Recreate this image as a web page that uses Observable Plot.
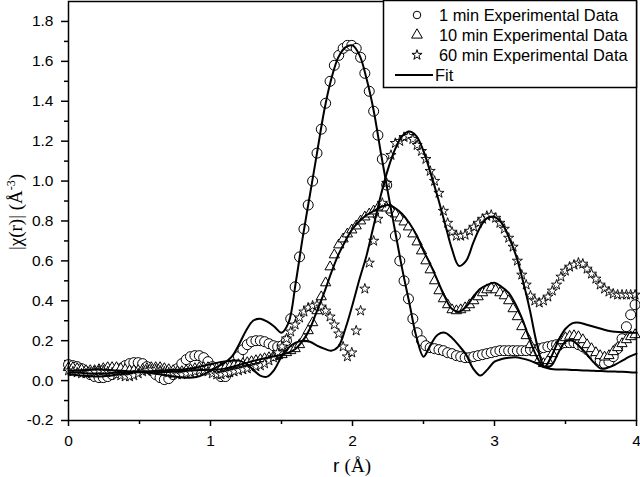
<!DOCTYPE html>
<html>
<head>
<meta charset="utf-8">
<script src="https://cdn.jsdelivr.net/npm/d3@7"></script>
<script src="https://cdn.jsdelivr.net/npm/@observablehq/plot@0.6"></script>
<style>
  html, body { margin: 0; padding: 0; background: #fff; }
  #chart { width: 640px; height: 477px; }
</style>
</head>
<body>
<div id="chart"></div>
<script>
// r grid of the experimental Fourier transforms (Å)
const rGrid = [0.000,0.031,0.061,0.092,0.123,0.153,0.184,0.215,0.245,0.276,0.307,0.338,0.368,0.399,0.430,0.460,0.491,0.522,0.552,0.583,0.614,0.645,0.675,0.706,0.737,0.767,0.798,0.829,0.859,0.890,0.921,0.952,0.982,1.013,1.044,1.074,1.105,1.136,1.166,1.197,1.228,1.259,1.289,1.320,1.351,1.381,1.412,1.443,1.473,1.504,1.535,1.565,1.596,1.627,1.658,1.688,1.719,1.750,1.780,1.811,1.842,1.872,1.903,1.934,1.964,1.995,2.026,2.057,2.087,2.118,2.149,2.179,2.210,2.241,2.271,2.302,2.333,2.363,2.394,2.425,2.455,2.486,2.517,2.547,2.578,2.609,2.640,2.670,2.701,2.732,2.762,2.793,2.824,2.854,2.885,2.916,2.946,2.977,3.008,3.038,3.069,3.100,3.131,3.161,3.192,3.223,3.253,3.284,3.315,3.345,3.376,3.407,3.437,3.468,3.499,3.529,3.560,3.591,3.622,3.652,3.683,3.714,3.744,3.775,3.806,3.836,3.867,3.898,3.929,3.959,3.990];

// 1 min experimental data (circles)
const exp1min = [0.08,0.075,0.07,0.06,0.045,0.03,0.02,0.015,0.015,0.02,0.03,0.045,0.06,0.075,0.085,0.09,0.09,0.085,0.07,0.05,0.03,0.015,0.005,0.01,0.03,0.06,0.085,0.105,0.12,0.125,0.125,0.115,0.095,0.07,0.04,0.02,0.02,0.045,0.08,0.12,0.155,0.18,0.195,0.2,0.2,0.195,0.185,0.175,0.17,0.175,0.2,0.31,0.47,0.62,0.76,0.88,1.0,1.14,1.26,1.39,1.5,1.58,1.63,1.665,1.68,1.68,1.665,1.62,1.54,1.45,1.35,1.23,1.11,0.98,0.85,0.725,0.6,0.5,0.41,0.31,0.24,0.2,0.175,0.165,0.16,0.155,0.15,0.14,0.135,0.125,0.12,0.115,0.115,0.12,0.125,0.13,0.135,0.14,0.145,0.15,0.15,0.15,0.15,0.15,0.15,0.15,0.155,0.155,0.16,0.165,0.17,0.175,0.18,0.185,0.19,0.19,0.19,0.18,0.17,0.155,0.135,0.115,0.1,0.085,0.095,0.12,0.16,0.21,0.27,0.33,0.38];

// 10 min experimental data (triangles)
const exp10min = [0.065,0.065,0.06,0.055,0.05,0.05,0.05,0.055,0.06,0.065,0.065,0.065,0.06,0.055,0.05,0.05,0.05,0.055,0.06,0.065,0.065,0.065,0.06,0.055,0.05,0.045,0.045,0.05,0.055,0.06,0.065,0.065,0.065,0.06,0.06,0.06,0.065,0.07,0.075,0.08,0.085,0.09,0.095,0.1,0.105,0.11,0.115,0.12,0.125,0.13,0.14,0.15,0.16,0.18,0.21,0.25,0.29,0.35,0.42,0.49,0.57,0.63,0.68,0.71,0.735,0.755,0.775,0.8,0.82,0.835,0.85,0.865,0.87,0.865,0.855,0.835,0.815,0.795,0.77,0.735,0.695,0.65,0.6,0.555,0.5,0.45,0.41,0.38,0.355,0.35,0.355,0.365,0.38,0.4,0.42,0.44,0.455,0.465,0.455,0.44,0.425,0.4,0.36,0.32,0.27,0.225,0.18,0.14,0.105,0.085,0.1,0.135,0.17,0.2,0.215,0.222,0.225,0.22,0.205,0.18,0.16,0.14,0.125,0.118,0.125,0.145,0.165,0.185,0.205,0.22,0.23];

// 60 min experimental data (stars)
const exp60min = [0.05,0.045,0.04,0.035,0.035,0.04,0.045,0.05,0.05,0.045,0.04,0.03,0.025,0.02,0.02,0.025,0.035,0.045,0.05,0.055,0.055,0.05,0.045,0.04,0.035,0.03,0.03,0.035,0.04,0.045,0.05,0.05,0.045,0.035,0.03,0.03,0.035,0.04,0.045,0.05,0.055,0.06,0.065,0.07,0.075,0.085,0.1,0.115,0.14,0.17,0.21,0.245,0.28,0.315,0.345,0.365,0.375,0.38,0.37,0.35,0.32,0.28,0.235,0.17,0.12,0.14,0.25,0.35,0.46,0.59,0.7,0.81,0.89,0.99,1.13,1.19,1.2,1.22,1.225,1.21,1.18,1.15,1.11,1.05,1.0,0.94,0.85,0.79,0.745,0.725,0.725,0.73,0.75,0.77,0.79,0.81,0.825,0.83,0.815,0.79,0.76,0.715,0.67,0.6,0.53,0.48,0.425,0.4,0.39,0.4,0.42,0.45,0.48,0.52,0.55,0.57,0.58,0.59,0.585,0.56,0.535,0.51,0.48,0.46,0.445,0.435,0.43,0.43,0.43,0.43,0.43];

// fit curves
const fitR = [0,0.05,0.1,0.15,0.2,0.25,0.3,0.35,0.4,0.45,0.5,0.55,0.6,0.65,0.7,0.75,0.8,0.85,0.9,0.95,1,1.05,1.1,1.15,1.2,1.25,1.3,1.35,1.4,1.45,1.5,1.55,1.6,1.65,1.7,1.75,1.8,1.85,1.9,1.95,2,2.05,2.1,2.15,2.2,2.25,2.3,2.35,2.4,2.45,2.5,2.55,2.6,2.65,2.7,2.75,2.8,2.85,2.9,2.95,3,3.05,3.1,3.15,3.2,3.25,3.3,3.35,3.4,3.45,3.5,3.55,3.6,3.65,3.7,3.75,3.8,3.85,3.9,3.95,4];
const fit1min = [0.03,0.028,0.025,0.022,0.02,0.022,0.026,0.03,0.035,0.04,0.042,0.04,0.036,0.03,0.025,0.02,0.016,0.014,0.018,0.03,0.05,0.07,0.09,0.12,0.18,0.25,0.3,0.31,0.295,0.27,0.24,0.29,0.49,0.72,0.93,1.14,1.35,1.51,1.62,1.67,1.68,1.63,1.51,1.35,1.14,0.94,0.75,0.56,0.39,0.22,0.12,0.18,0.23,0.24,0.215,0.175,0.13,0.06,0.025,0.055,0.095,0.108,0.115,0.117,0.11,0.1,0.085,0.067,0.075,0.14,0.195,0.2,0.17,0.133,0.09,0.06,0.065,0.08,0.1,0.12,0.135];
const fit10min = [0.04,0.04,0.038,0.036,0.035,0.036,0.038,0.04,0.042,0.044,0.045,0.045,0.044,0.043,0.043,0.045,0.048,0.05,0.052,0.053,0.054,0.056,0.06,0.068,0.078,0.088,0.098,0.107,0.115,0.122,0.13,0.14,0.16,0.2,0.26,0.35,0.44,0.54,0.63,0.7,0.76,0.8,0.83,0.85,0.87,0.88,0.865,0.835,0.79,0.73,0.65,0.58,0.5,0.42,0.36,0.345,0.37,0.42,0.46,0.48,0.49,0.47,0.44,0.38,0.3,0.2,0.117,0.067,0.12,0.2,0.26,0.288,0.29,0.28,0.27,0.26,0.25,0.245,0.242,0.24,0.24];
const fit60min = [0.05,0.05,0.052,0.054,0.055,0.054,0.052,0.05,0.048,0.046,0.045,0.046,0.048,0.05,0.052,0.054,0.056,0.06,0.066,0.074,0.082,0.09,0.096,0.1,0.1,0.085,0.055,0.025,0.02,0.055,0.12,0.165,0.19,0.2,0.195,0.175,0.16,0.15,0.17,0.26,0.38,0.51,0.63,0.78,0.93,1.06,1.16,1.225,1.248,1.225,1.15,1.04,0.92,0.79,0.66,0.575,0.6,0.69,0.77,0.815,0.82,0.79,0.72,0.63,0.5,0.35,0.18,0.07,0.058,0.056,0.055,0.053,0.052,0.05,0.049,0.048,0.046,0.045,0.044,0.042,0.04];

// axis ticks
const xTicks = [0, 1, 2, 3, 4];
const xMinorTicks = [0.5, 1.5, 2.5, 3.5];
const yTicks = [-0.2, 0.0, 0.2, 0.4, 0.6, 0.8, 1.0, 1.2, 1.4, 1.6, 1.8];
const yMinorTicks = [-0.1, 0.1, 0.3, 0.5, 0.7, 0.9, 1.1, 1.3, 1.5, 1.7];

const legendLabels = ["1 min Experimental Data", "10 min Experimental Data", "60 min Experimental Data", "Fit"];

const pts = (ys) => rGrid.map((r, i) => ({r, y: ys[i]}));
const fitPts = (ys) => fitR.map((r, i) => ({r, y: ys[i]}));

const font = "Arial, 'Liberation Sans', sans-serif";
const serif = "'Liberation Serif', 'Times New Roman', serif";

const plot = Plot.plot({
  width: 640,
  height: 477,
  marginLeft: 68,
  marginRight: 4,
  marginTop: 1,
  marginBottom: 57,
  style: {fontFamily: font, fontSize: "15.5px", background: "#fff", color: "#000"},
  x: {domain: [0, 4]},
  y: {domain: [-0.2, 1.9]},
  marks: [
    Plot.axisX({ticks: xTicks, tickSize: 6, tickPadding: 8, tickFormat: d => String(d), label: null, strokeWidth: 1.5}),
    Plot.axisX({ticks: xMinorTicks, tickSize: 4, tickFormat: () => "", label: null, strokeWidth: 1.5}),
    Plot.axisY({ticks: yTicks, tickSize: 7, tickPadding: 8, tickFormat: d => d.toFixed(1), label: null, strokeWidth: 1.5}),
    Plot.axisY({ticks: yMinorTicks, tickSize: 4, tickFormat: () => "", label: null, strokeWidth: 1.5}),
    Plot.dot(pts(exp1min), {x: "r", y: "y", symbol: "circle", r: 5, fill: "white", stroke: "black", strokeWidth: 1}),
    Plot.dot(pts(exp10min), {x: "r", y: "y", symbol: "triangle", r: 3.8, fill: "white", stroke: "black", strokeWidth: 1}),
    Plot.dot(pts(exp60min), {x: "r", y: "y", symbol: "star", r: 3.2, fill: "white", stroke: "black", strokeWidth: 0.9}),
    Plot.line(fitPts(fit1min), {x: "r", y: "y", curve: "catmull-rom", stroke: "black", strokeWidth: 2}),
    Plot.line(fitPts(fit10min), {x: "r", y: "y", curve: "catmull-rom", stroke: "black", strokeWidth: 2}),
    Plot.line(fitPts(fit60min), {x: "r", y: "y", curve: "catmull-rom", stroke: "black", strokeWidth: 2}),
    Plot.frame({stroke: "black", strokeWidth: 1.5})
  ]
});

const svg = d3.select(plot);

// axis titles
const yt = svg.append("text")
  .attr("transform", "translate(22,212) rotate(-90)")
  .attr("text-anchor", "middle")
  .attr("fill", "black")
  .style("font-family", serif)
  .style("font-size", "19px");
yt.append("tspan").text("|χ(r)| (Å");
yt.append("tspan").attr("dy", -7).style("font-size", "12px").text("-3");
yt.append("tspan").attr("dy", 7).text(")");

const xt = svg.append("text")
  .attr("x", 352).attr("y", 472)
  .attr("text-anchor", "middle")
  .attr("fill", "black")
  .style("font-size", "19px");
xt.append("tspan").style("font-family", font).text("r ");
xt.append("tspan").style("font-family", serif).text("(Å)");

// legend
const lg = svg.append("g").attr("text-anchor", "start");
lg.append("rect").attr("x", 383.5).attr("y", 0.5).attr("width", 253).attr("height", 87)
  .attr("fill", "white").attr("stroke", "black").attr("stroke-width", 1.5);
const rowsY = [15, 35, 55, 75];
const syms = [d3.symbolCircle, d3.symbolTriangle, d3.symbolStar];
const symSizes = [45, 50, 32];
legendLabels.forEach((lab, i) => {
  if (i < 3) {
    lg.append("path").attr("d", d3.symbol(syms[i], symSizes[i])())
      .attr("transform", `translate(417,${rowsY[i]})`)
      .attr("fill", "white").attr("stroke", "black").attr("stroke-width", 1);
  } else {
    lg.append("line").attr("x1", 395).attr("x2", 433).attr("y1", rowsY[i]).attr("y2", rowsY[i])
      .attr("stroke", "black").attr("stroke-width", 2);
  }
  lg.append("text").attr("x", i < 3 ? 439 : 435).attr("y", rowsY[i] + 6)
    .attr("text-anchor", "start")
    .attr("fill", "black").style("font-family", font).style("font-size", "16.4px").text(lab);
});

document.getElementById("chart").appendChild(plot);
</script>
</body>
</html>
